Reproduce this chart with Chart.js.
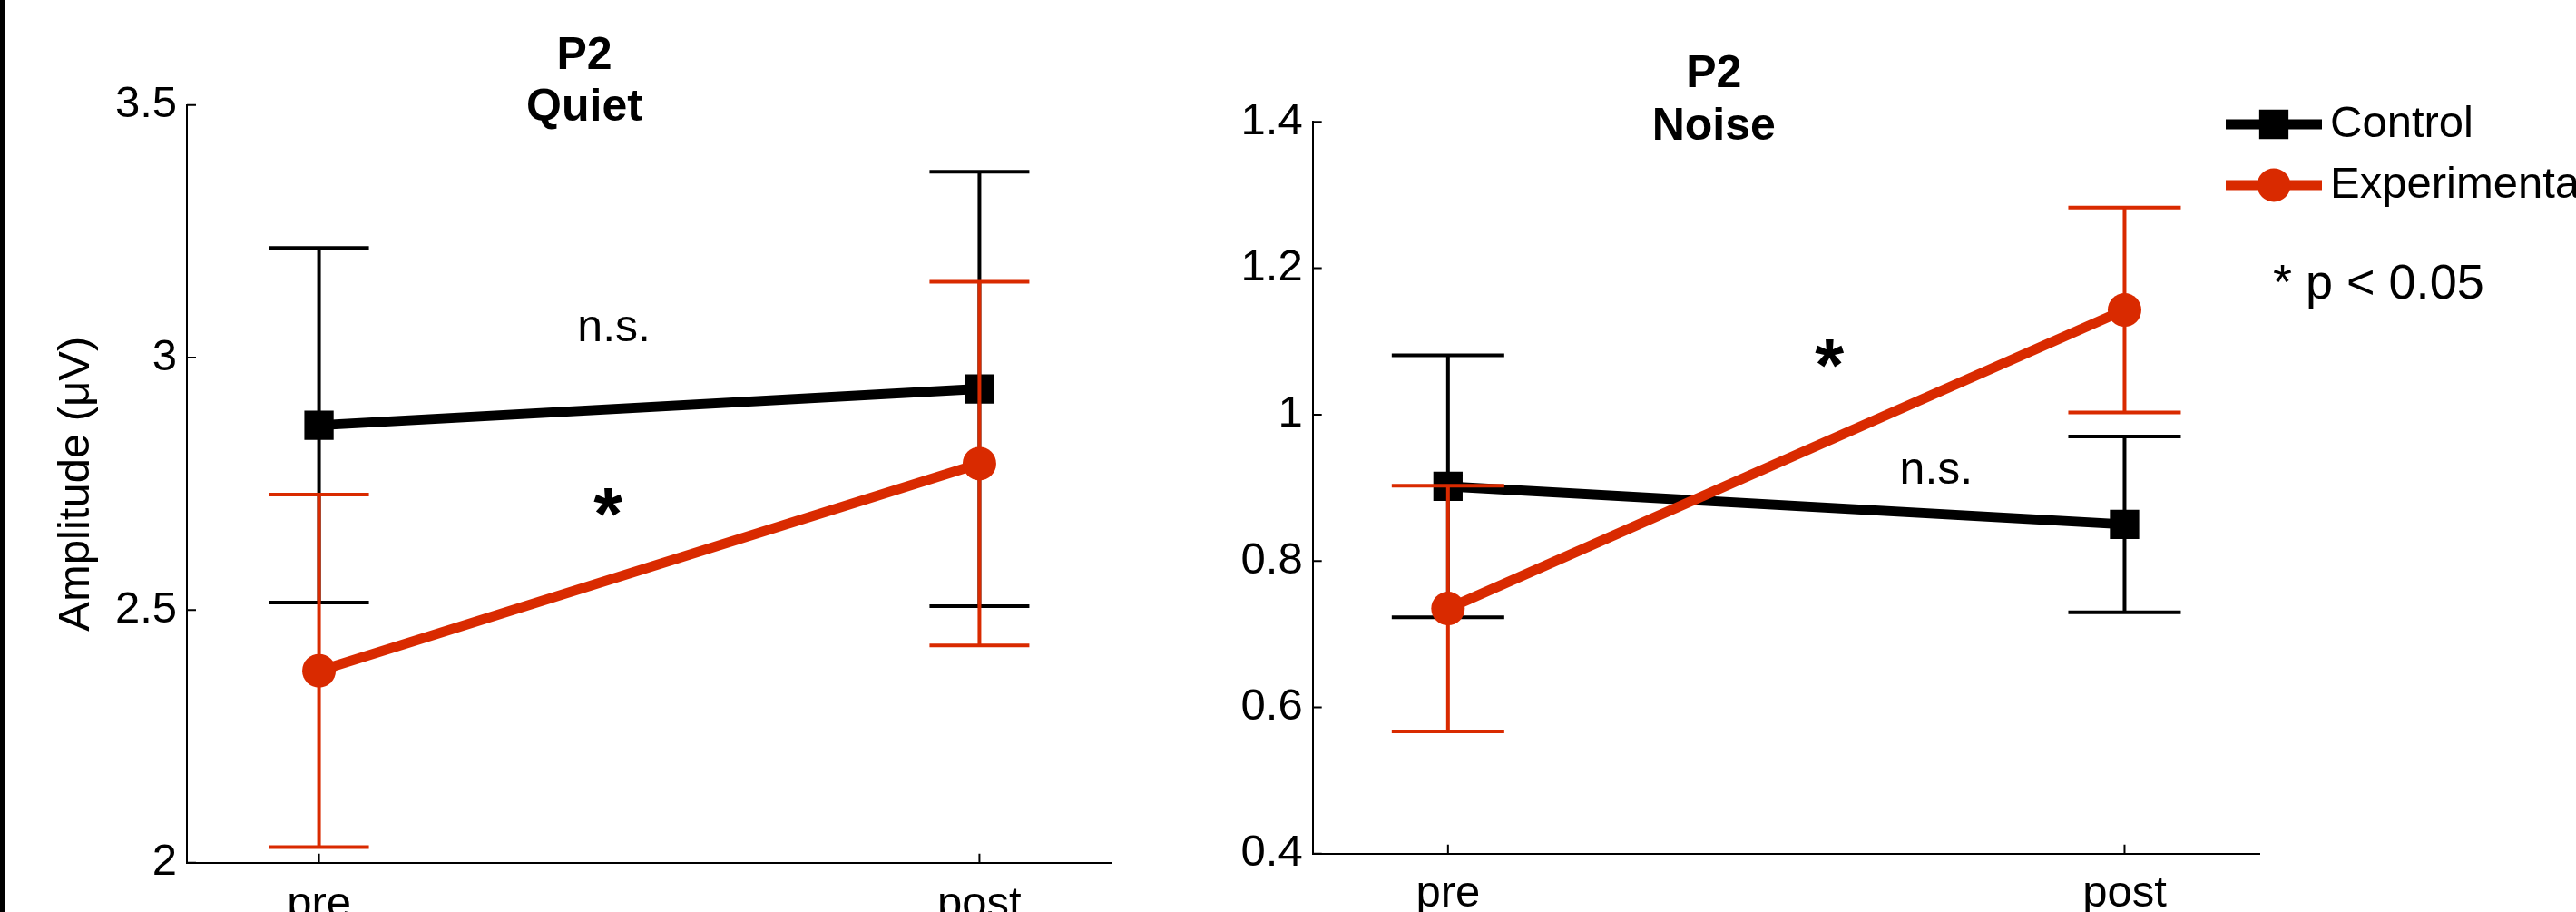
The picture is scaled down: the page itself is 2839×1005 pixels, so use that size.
<!DOCTYPE html>
<html>
<head>
<meta charset="utf-8">
<script src="https://cdn.jsdelivr.net/npm/chart.js@4.4.0/dist/chart.umd.min.js"></script>
<style>
  html, body { margin: 0; padding: 0; background: #fff; overflow: hidden; }
  #page { position: relative; width: 2839px; height: 1005px; overflow: hidden; background: #fff; }
  #edge { position: absolute; left: 0; top: 0; width: 5px; height: 1005px; background: #000; }
  canvas { position: absolute; top: 0; }
  #quiet { left: 0; }
  #noise { left: 1287px; }
</style>
</head>
<body>
<div id="page">
  <canvas id="quiet" width="1288" height="1005"></canvas>
  <canvas id="noise" width="1552" height="1005"></canvas>
  <div id="edge"></div>
</div>
<script>
const categories = ['pre', 'post'];

// P2 amplitude, quiet condition (mean and error)
const quietControl = [2.866, 2.938];
const quietControlErr = [0.351, 0.430];
const quietExperimental = [2.380, 2.790];
const quietExperimentalErr = [0.349, 0.360];

// P2 amplitude, noise condition
const noiseControl = [0.902, 0.850];
const noiseControlErr = [0.179, 0.120];
const noiseExperimental = [0.735, 1.143];
const noiseExperimentalErr = [0.168, 0.140];

const quietTicks = [2, 2.5, 3, 3.5];
const quietTickLabels = ['2', '2.5', '3', '3.5'];
const noiseTicks = [0.4, 0.6, 0.8, 1, 1.2, 1.4];
const noiseTickLabels = ['0.4', '0.6', '0.8', '1', '1.2', '1.4'];

const quietNotes = [
  { text: 'n.s.', x: 1.446, y: 3.056 },
  { text: '*', x: 1.438, y: 2.713 }
];
const noiseNotes = [
  { text: '*', x: 1.564, y: 1.084 },
  { text: 'n.s.', x: 1.721, y: 0.922 }
];

const FONT = '"Liberation Sans", Arial, Helvetica, sans-serif';
const BLACK = '#000000';
const RED = '#d92a00';

function toPoints(values) {
  return values.map((v, i) => ({ x: i + 1, y: v }));
}

const errorBars = {
  id: 'errorBars',
  beforeDatasetDraw(chart, args, opts) {
    const ds = chart.data.datasets[args.index];
    const xs = chart.scales.x;
    const ys = chart.scales.y;
    const ctx = chart.ctx;
    ctx.save();
    ctx.strokeStyle = ds.borderColor;
    ctx.lineWidth = opts.width;
    ctx.lineCap = 'butt';
    ds.data.forEach((p, i) => {
      const px = xs.getPixelForValue(p.x);
      const top = ys.getPixelForValue(p.y + ds.errors[i]);
      const bot = ys.getPixelForValue(p.y - ds.errors[i]);
      ctx.beginPath();
      ctx.moveTo(px, top);
      ctx.lineTo(px, bot);
      ctx.moveTo(px - opts.cap, top);
      ctx.lineTo(px + opts.cap, top);
      ctx.moveTo(px - opts.cap, bot);
      ctx.lineTo(px + opts.cap, bot);
      ctx.stroke();
    });
    ctx.restore();
  }
};

// matlab style ticks pointing into the axes
const innerTicks = {
  id: 'innerTicks',
  beforeDatasetsDraw(chart, args, opts) {
    const { ctx, chartArea, scales } = chart;
    ctx.save();
    ctx.strokeStyle = BLACK;
    ctx.lineWidth = opts.width;
    ctx.beginPath();
    scales.x.ticks.forEach(t => {
      const px = scales.x.getPixelForValue(t.value);
      ctx.moveTo(px, chartArea.bottom);
      ctx.lineTo(px, chartArea.bottom - opts.length);
    });
    scales.y.ticks.forEach(t => {
      const py = scales.y.getPixelForValue(t.value);
      ctx.moveTo(chartArea.left, py);
      ctx.lineTo(chartArea.left + opts.length, py);
    });
    ctx.stroke();
    ctx.restore();
  }
};

const notes = {
  id: 'notes',
  afterDatasetsDraw(chart, args, opts) {
    const { ctx, scales } = chart;
    ctx.save();
    ctx.fillStyle = BLACK;
    ctx.textAlign = 'center';
    ctx.textBaseline = 'alphabetic';
    opts.items.forEach(n => {
      ctx.font = n.text === '*' ? opts.starFont : opts.font;
      const m = ctx.measureText(n.text);
      const px = scales.x.getPixelForValue(n.x);
      const py = scales.y.getPixelForValue(n.y);
      ctx.fillText(n.text,
        px - (m.actualBoundingBoxRight - m.actualBoundingBoxLeft) / 2,
        py + (m.actualBoundingBoxAscent - m.actualBoundingBoxDescent) / 2);
    });
    ctx.restore();
  }
};

const sideLegend = {
  id: 'sideLegend',
  afterDraw(chart, args, opts) {
    if (!opts.display) return;
    const ctx = chart.ctx;
    ctx.save();
    chart.data.datasets.forEach((ds, i) => {
      const y = opts.top + i * opts.rowGap;
      const cx = opts.left + opts.lineLength / 2;
      ctx.strokeStyle = ds.borderColor;
      ctx.lineWidth = ds.borderWidth;
      ctx.beginPath();
      ctx.moveTo(opts.left, y);
      ctx.lineTo(opts.left + opts.lineLength, y);
      ctx.stroke();
      ctx.fillStyle = ds.pointBackgroundColor;
      ctx.beginPath();
      if (ds.pointStyle === 'rect') {
        const s = ds.pointRadius * Math.SQRT1_2;
        ctx.rect(cx - s, y - s, 2 * s, 2 * s);
        ctx.fill();
        ctx.lineWidth = ds.pointBorderWidth;
        ctx.stroke();
      } else {
        ctx.arc(cx, y, ds.pointRadius, 0, Math.PI * 2);
        ctx.fill();
      }
      ctx.fillStyle = BLACK;
      ctx.font = opts.font;
      ctx.textAlign = 'left';
      ctx.textBaseline = 'middle';
      ctx.fillText(ds.label, opts.left + opts.lineLength + opts.textGap, y);
    });
    ctx.font = opts.noteFont;
    ctx.textBaseline = 'alphabetic';
    ctx.fillText(opts.note, opts.noteX, opts.noteY);
    ctx.restore();
  }
};

function buildChart(id, setup) {
  const datasets = [
    {
      label: 'Control',
      data: toPoints(setup.control),
      errors: setup.controlErr,
      borderColor: BLACK,
      backgroundColor: BLACK,
      borderWidth: 11,
      pointStyle: 'rect',
      pointRadius: 20,
      pointBorderWidth: 4,
      pointBorderColor: BLACK,
      pointBackgroundColor: BLACK,
      order: 2
    },
    {
      label: 'Experimental',
      data: toPoints(setup.experimental),
      errors: setup.experimentalErr,
      borderColor: RED,
      backgroundColor: RED,
      borderWidth: 11,
      pointStyle: 'circle',
      pointRadius: 18.5,
      pointBorderWidth: 0,
      pointBorderColor: RED,
      pointBackgroundColor: RED,
      order: 1
    }
  ];

  return new Chart(document.getElementById(id), {
    type: 'line',
    data: { datasets: datasets },
    options: {
      responsive: false,
      animation: false,
      events: [],
      layout: { padding: setup.padding },
      plugins: {
        legend: { display: false },
        tooltip: { enabled: false },
        title: {
          display: true,
          text: setup.title,
          color: BLACK,
          font: { family: FONT, size: 50, weight: 'bold', lineHeight: 1.148 },
          padding: setup.titlePadding
        },
        errorBars: { width: 4, cap: setup.cap },
        innerTicks: { width: 2, length: 10 },
        notes: {
          items: setup.notes,
          font: '50px ' + FONT,
          starFont: 'bold 82px ' + FONT
        },
        sideLegend: setup.legend
      },
      scales: {
        x: {
          type: 'linear',
          min: 0.8,
          max: 2.2,
          grid: { display: false, drawTicks: false },
          border: { display: true, color: BLACK, width: 2 },
          afterBuildTicks: s => { s.ticks = categories.map((c, i) => ({ value: i + 1 })); },
          afterFit: s => { s.height = setup.xAxisHeight; },
          ticks: {
            callback: (v, i) => categories[i],
            color: BLACK,
            font: { family: FONT, size: 49 },
            padding: setup.xLabelPad,
            maxRotation: 0,
            autoSkip: false
          }
        },
        y: {
          type: 'linear',
          min: setup.yTicks[0],
          max: setup.yTicks[setup.yTicks.length - 1],
          grid: { display: false, drawTicks: false },
          border: { display: true, color: BLACK, width: 2 },
          afterBuildTicks: s => { s.ticks = setup.yTicks.map(v => ({ value: v })); },
          afterFit: s => { s.width = setup.yAxisWidth; },
          ticks: {
            callback: (v, i) => setup.yLabels[i],
            color: BLACK,
            font: { family: FONT, size: 49 },
            padding: 11,
            autoSkip: false
          },
          title: {
            display: !!setup.yTitle,
            text: setup.yTitle || '',
            color: BLACK,
            font: { family: FONT, size: 49, lineHeight: 1 },
            padding: { top: -3.5, bottom: 0 }
          }
        }
      }
    },
    plugins: [errorBars, innerTicks, notes, sideLegend]
  });
}

buildChart('quiet', {
  title: ['P2', 'Quiet'],
  control: quietControl,
  controlErr: quietControlErr,
  experimental: quietExperimental,
  experimentalErr: quietExperimentalErr,
  yTicks: quietTicks,
  yLabels: quietTickLabels,
  yTitle: 'Amplitude (μV)',
  notes: quietNotes,
  padding: { left: 63, right: 63, top: 0, bottom: 0 },
  titlePadding: { top: 33.3, bottom: -32.4 },
  yAxisWidth: 143,
  xAxisHeight: 54.3,
  xLabelPad: 17,
  cap: 55,
  legend: { display: false }
});

buildChart('noise', {
  title: ['P2', 'Noise'],
  control: noiseControl,
  controlErr: noiseControlErr,
  experimental: noiseExperimental,
  experimentalErr: noiseExperimentalErr,
  yTicks: noiseTicks,
  yLabels: noiseTickLabels,
  yTitle: null,
  notes: noiseNotes,
  padding: { left: 0, right: 348.4, top: 0, bottom: 0 },
  titlePadding: { top: 54, bottom: -34.5 },
  yAxisWidth: 159.7,
  xAxisHeight: 64.2,
  xLabelPad: 15,
  cap: 62,
  legend: {
    display: true,
    left: 1166,
    lineLength: 106,
    top: 137,
    rowGap: 67,
    textGap: 9,
    font: '49px ' + FONT,
    note: '* p < 0.05',
    noteFont: '54px ' + FONT,
    noteX: 1218,
    noteY: 329
  }
});
</script>
</body>
</html>
